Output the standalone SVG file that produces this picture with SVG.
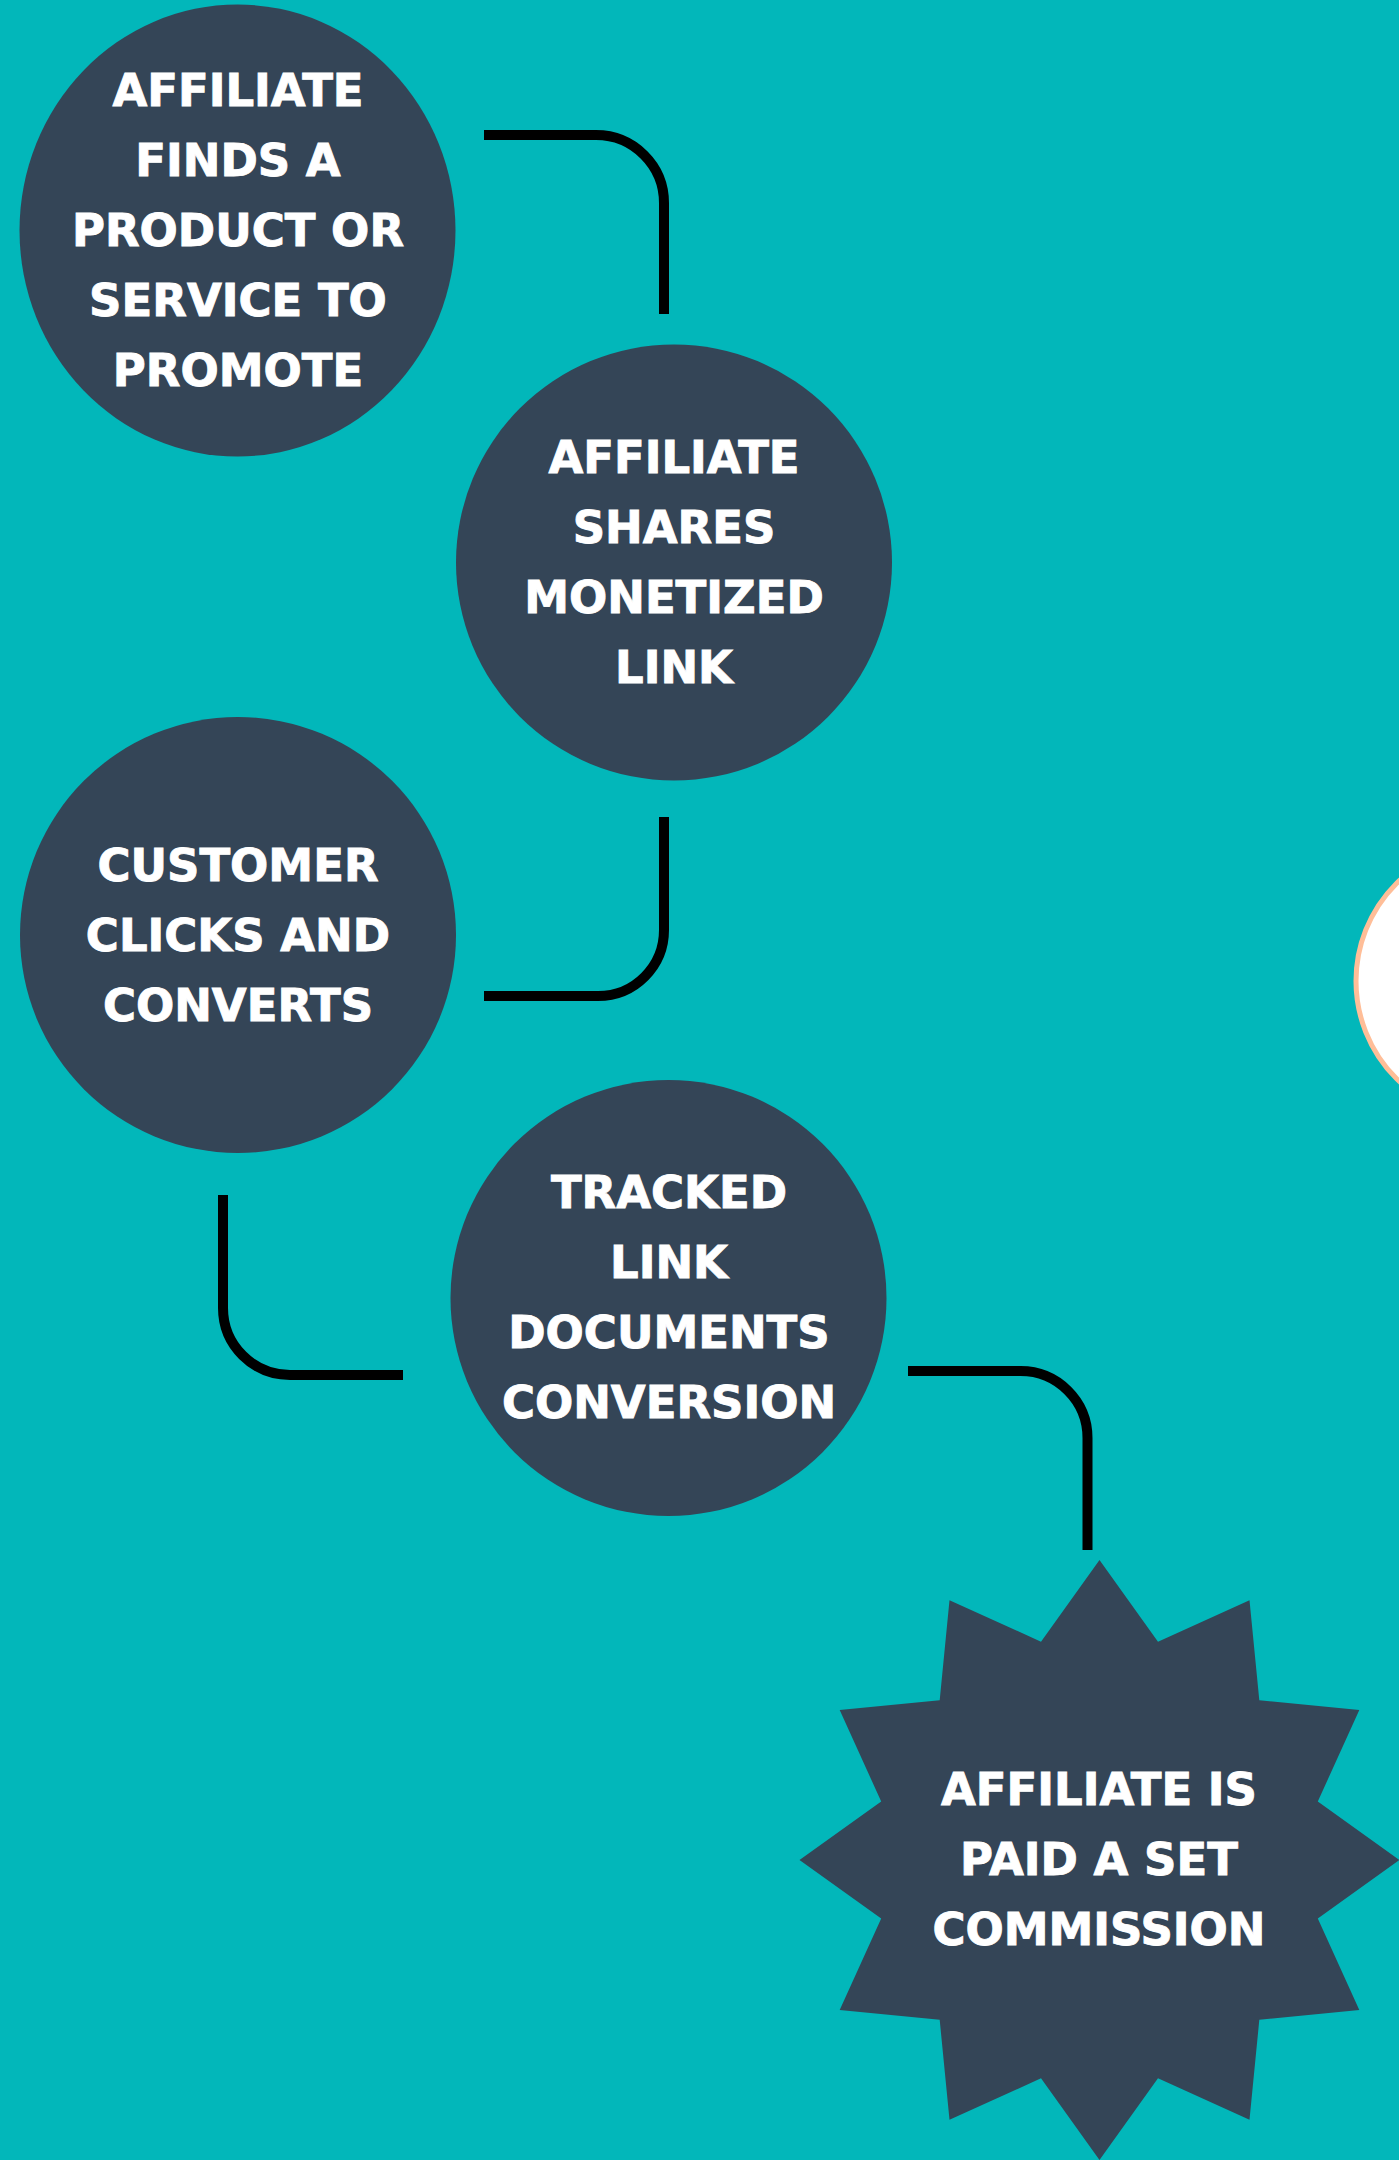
<svg xmlns="http://www.w3.org/2000/svg" width="1399" height="2160" viewBox="0 0 1399 2160">
  <style>
    .node { fill: #344557; }
    .label { fill: #ffffff; stroke: #ffffff; stroke-width: 0.9; font-family: "DejaVu Sans", "Liberation Sans", sans-serif; font-weight: bold; font-size: 45px; text-anchor: middle; }
    .link { fill: none; stroke: #000000; stroke-width: 10; }
  </style>

  <!-- background -->
  <rect x="0" y="0" width="1399" height="2160" fill="#02b7ba"/>

  <!-- partial decorative circle at the right edge -->
  <circle cx="1494" cy="981" r="138" fill="#ffffff" stroke="#ffbe98" stroke-width="5"/>

  <!-- connectors -->
  <g id="connectors">
    <path class="link" d="M484,135 H596 A68 68 0 0 1 664,203 V314"/>
    <path class="link" d="M664,817 V930 A66 66 0 0 1 598,996 H484"/>
    <path class="link" d="M223,1195 V1308 A67 67 0 0 0 290,1375 H403"/>
    <path class="link" d="M908,1371 H1020 A67 67 0 0 1 1087.5,1438 V1550"/>
  </g>

  <!-- step 1 -->
  <g id="step-find">
    <ellipse class="node" cx="237.5" cy="230.5" rx="218" ry="226"/>
    <text class="label" x="238" y="106">AFFILIATE</text>
    <text class="label" x="238" y="176">FINDS A</text>
    <text class="label" x="238" y="246">PRODUCT OR</text>
    <text class="label" x="238" y="316">SERVICE TO</text>
    <text class="label" x="238" y="386">PROMOTE</text>
  </g>

  <!-- step 2 -->
  <g id="step-share">
    <circle class="node" cx="674" cy="562.5" r="218"/>
    <text class="label" x="674" y="473">AFFILIATE</text>
    <text class="label" x="674" y="543">SHARES</text>
    <text class="label" x="674" y="613">MONETIZED</text>
    <text class="label" x="674" y="683">LINK</text>
  </g>

  <!-- step 3 -->
  <g id="step-convert">
    <circle class="node" cx="238" cy="935" r="218"/>
    <text class="label" x="238" y="881">CUSTOMER</text>
    <text class="label" x="238" y="951">CLICKS AND</text>
    <text class="label" x="238" y="1021">CONVERTS</text>
  </g>

  <!-- step 4 -->
  <g id="step-track">
    <circle class="node" cx="668.5" cy="1298" r="218"/>
    <text class="label" x="669" y="1208">TRACKED</text>
    <text class="label" x="669" y="1278">LINK</text>
    <text class="label" x="669" y="1348">DOCUMENTS</text>
    <text class="label" x="669" y="1418">CONVERSION</text>
  </g>

  <!-- step 5: 12-point starburst -->
  <g id="step-paid">
    <polygon class="node" points="1099.5,1560 1157.99,1641.7 1249.5,1600.19 1259.31,1700.19 1359.31,1710 1317.8,1801.51 1399.5,1860 1317.8,1918.49 1359.31,2010 1259.31,2019.81 1249.5,2119.81 1157.99,2078.3 1099.5,2160 1041.01,2078.3 949.5,2119.81 939.69,2019.81 839.69,2010 881.2,1918.49 799.5,1860 881.2,1801.51 839.69,1710 939.69,1700.19 949.5,1600.19 1041.01,1641.7"/>
    <text class="label" x="1099" y="1805">AFFILIATE IS</text>
    <text class="label" x="1099" y="1875">PAID A SET</text>
    <text class="label" x="1099" y="1945">COMMISSION</text>
  </g>
</svg>
